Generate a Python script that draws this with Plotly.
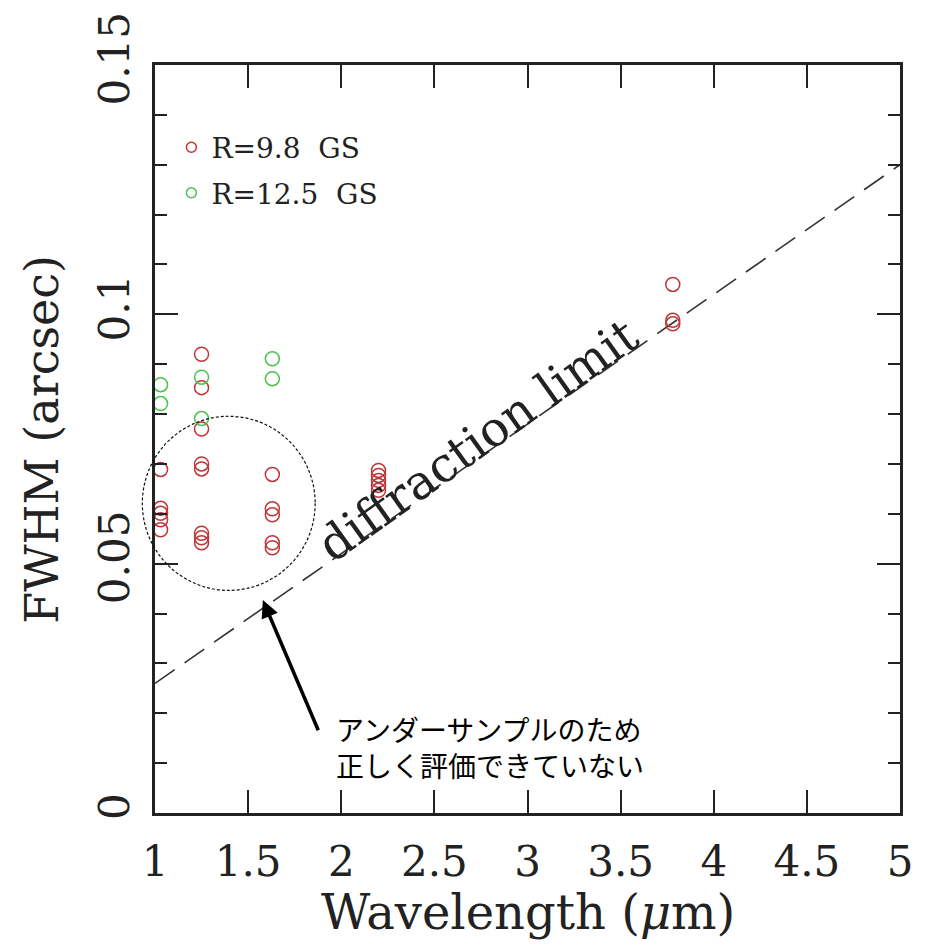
import plotly.graph_objects as go

# ---- data ----
red_x = [1.03, 1.03, 1.03, 1.03, 1.03,
         1.25, 1.25, 1.25, 1.25, 1.25, 1.25, 1.25, 1.25,
         1.63, 1.63, 1.63, 1.63, 1.63,
         2.2, 2.2, 2.2, 2.2, 2.2,
         3.78, 3.78, 3.78]
red_y = [0.0689, 0.0611, 0.0601, 0.0588, 0.0568,
         0.0920, 0.0853, 0.0770, 0.0700, 0.0690, 0.0561, 0.0552, 0.0542,
         0.0679, 0.0610, 0.0598, 0.0542, 0.0532,
         0.0687, 0.0677, 0.0667, 0.0657, 0.0647,
         0.1060, 0.0988, 0.0981]
green_x = [1.03, 1.03, 1.25, 1.25, 1.63, 1.63]
green_y = [0.0859, 0.0821, 0.0874, 0.0791, 0.0911, 0.0871]
diff_x = [1.0, 5.0]
diff_y = [0.026, 0.130]
x_ticks = [1, 1.5, 2, 2.5, 3, 3.5, 4, 4.5, 5]
y_ticks = [0, 0.05, 0.1, 0.15]

RED = "#c03438"
GREEN = "#4cc24c"
INK = "#222222"
SERIF = "DejaVu Serif"

fig = go.Figure()

fig.add_trace(go.Scatter(x=diff_x, y=diff_y, mode="lines",
                         line=dict(color="#333333", width=1.6, dash="24px,12px"),
                         showlegend=False, hoverinfo="skip"))
fig.add_trace(go.Scatter(x=red_x, y=red_y, mode="markers", cliponaxis=False,
                         marker=dict(symbol="circle-open", size=14, color=RED,
                                     line=dict(width=1.5)),
                         showlegend=False))
fig.add_trace(go.Scatter(x=green_x, y=green_y, mode="markers", cliponaxis=False,
                         marker=dict(symbol="circle-open", size=14, color=GREEN,
                                     line=dict(width=1.5)),
                         showlegend=False))
# legend entries
fig.add_trace(go.Scatter(x=[None], y=[None], mode="markers", name="R=9.8  GS",
                         legendgroup="a",
                         marker=dict(symbol="circle-open", size=10, color=RED,
                                     line=dict(width=1.5))))
fig.add_trace(go.Scatter(x=[None], y=[None], mode="markers", name="R=12.5  GS",
                         legendgroup="b",
                         marker=dict(symbol="circle-open", size=10, color=GREEN,
                                     line=dict(width=1.5))))

axis_common = dict(showline=True, linewidth=2.5, linecolor=INK, mirror="ticks",
                   ticks="inside", tickwidth=2.2, tickcolor=INK, showgrid=False,
                   zeroline=False, tickfont=dict(family=SERIF, size=42, color=INK))

fig.update_xaxes(range=[1, 5], tickvals=x_ticks, ticklen=23,
                 ticklabelstandoff=10, **axis_common)
fig.update_yaxes(range=[0, 0.15], tickvals=y_ticks, ticklen=23, tickangle=-90,
                 ticklabelstandoff=6,
                 minor=dict(dtick=0.01, ticklen=12, ticks="inside", tickwidth=2.2,
                            tickcolor=INK),
                 **axis_common)

fig.update_layout(
    width=925, height=945,
    margin=dict(l=155, r=12, t=57, b=132),
    paper_bgcolor="white", plot_bgcolor="white",
    legend=dict(x=0.022, y=0.923, xanchor="left", yanchor="top",
                bgcolor="rgba(0,0,0,0)", tracegroupgap=6,
                font=dict(family=SERIF, size=28, color=INK)),
    shapes=[dict(type="circle", xref="paper", yref="paper",
                 x0=-0.017, x1=0.215, y0=0.2976, y1=0.5304,
                 line=dict(color="#111111", width=1.2, dash="3px,2px"))],
    annotations=[
        dict(text="Wavelength (<i>μ</i>m)", xref="paper", yref="paper",
             x=0.5, y=-0.132, xanchor="center", yanchor="middle", showarrow=False,
             font=dict(family=SERIF, size=48, color=INK)),
        dict(text="FWHM (arcsec)", xref="paper", yref="paper",
             x=-0.152, y=0.5, xanchor="center", yanchor="middle", textangle=-90,
             showarrow=False, font=dict(family=SERIF, size=46, color=INK)),
        dict(text="diffraction limit", xref="x", yref="y", x=2.73, y=0.0748,
             textangle=-35.5, showarrow=False,
             font=dict(family=SERIF, size=48, color=INK)),
        dict(text="", xref="x", yref="y", x=1.579, y=0.0427,
             ax=1.88, ay=0.0163, axref="x", ayref="y", showarrow=True,
             arrowhead=2, arrowsize=1.0, arrowwidth=3.5, arrowcolor="black"),
        dict(text="アンダーサンプルのため<br>正しく評価できていない",
             xref="x", yref="y", x=1.96, y=0.0133, align="left",
             xanchor="left", yanchor="middle", showarrow=False,
             font=dict(family="Noto Sans CJK JP", size=28, color="black")),
    ],
)

fig.write_html("out.html")
